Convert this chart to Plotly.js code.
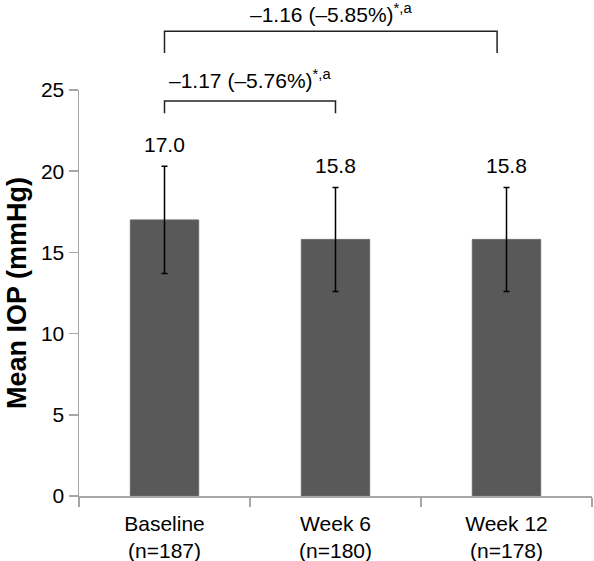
<!DOCTYPE html>
<html>
<head>
<meta charset="utf-8">
<script src="https://cdn.plot.ly/plotly-3.0.1.min.js"></script>
<style>html,body{margin:0;padding:0;background:#fff;}#chart{width:594px;height:561px;}</style>
</head>
<body>
<div id="chart"></div>
<script>
// ---- data ----
var categories = ["Baseline<br>(n=187)", "Week 6<br>(n=180)", "Week 12<br>(n=178)"];
var meanIOP = [17.0, 15.8, 15.8];
var sdIOP = [3.3, 3.2, 3.2];
var valueLabels = ["17.0", "15.8", "15.8"];
var comparisonFrom = [0, 0];
var comparisonTo = [1, 2];
var comparisonLabels = ["\u20131.17 (\u20135.76%)<sup>*,a</sup>", "\u20131.16 (\u20135.85%)<sup>*,a</sup>"];
var yTicks = [0, 5, 10, 15, 20, 25];

// ---- style ----
var FONT = "Arial, 'Liberation Sans', sans-serif";
var bracketStyle = [
  {y: 0.973, leg: 0.943, textY: 1.027, endOffset: 0},
  {y: 1.145, leg: 1.091, textY: 1.19, endOffset: -0.055}
];

var trace = {
  type: "bar",
  x: categories,
  y: meanIOP,
  width: 0.4,
  marker: {color: "#595959", line: {color: "#6a6a6a", width: 1}},
  error_y: {type: "data", array: sdIOP, visible: true, color: "#000", thickness: 1.5, width: 3},
  hoverinfo: "none"
};

var annotations = [];
var shapes = [];
for (var i = 0; i < categories.length; i++) {
  annotations.push({
    x: categories[i], y: meanIOP[i] + sdIOP[i], xref: "x", yref: "y",
    text: valueLabels[i], showarrow: false, yanchor: "bottom", yshift: 8,
    font: {family: FONT, size: 21, color: "#000"}
  });
}
for (var j = 0; j < comparisonFrom.length; j++) {
  var s = bracketStyle[j];
  var x0 = comparisonFrom[j];
  var x1 = comparisonTo[j] + s.endOffset;
  var pathStr = "M" + x0 + "," + s.leg + " L" + x0 + "," + s.y + " L" + x1 + "," + s.y + " L" + x1 + "," + s.leg;
  shapes.push({type: "path", xref: "x", yref: "paper", path: pathStr, line: {color: "#222", width: 1.5}});
  annotations.push({
    x: (x0 + x1) / 2, y: s.textY, xref: "x", yref: "paper",
    text: comparisonLabels[j], showarrow: false, xanchor: "center", yanchor: "middle",
    font: {family: FONT, size: 21, color: "#000"}
  });
}

var layout = {
  width: 594, height: 561,
  margin: {l: 79, r: 2, t: 90, b: 65},
  paper_bgcolor: "#fff", plot_bgcolor: "#fff",
  showlegend: false,
  font: {family: FONT, size: 21, color: "#000"},
  xaxis: {
    type: "category",
    showline: true, linecolor: "#a6a6a6", linewidth: 1.5,
    ticks: "outside", tickson: "boundaries", ticklen: 9, tickcolor: "#a6a6a6", tickwidth: 1.5,
    ticklabelstandoff: 8,
    showgrid: false, zeroline: false,
    tickfont: {family: FONT, size: 21, color: "#000"},
    automargin: false
  },
  yaxis: {
    range: [0, 25], tickvals: yTicks,
    showline: true, linecolor: "#a6a6a6", linewidth: 1.5,
    ticks: "outside", ticklen: 9, tickcolor: "#a6a6a6", tickwidth: 1.5,
    showgrid: false, zeroline: false,
    tickfont: {family: FONT, size: 21, color: "#000"},
    title: {text: "<b>Mean IOP (mmHg)</b>", font: {family: FONT, size: 27, color: "#000"}, standoff: 6},
    automargin: false
  },
  shapes: shapes,
  annotations: annotations
};

Plotly.newPlot("chart", [trace], layout, {displayModeBar: false, staticPlot: true});
</script>
</body>
</html>
